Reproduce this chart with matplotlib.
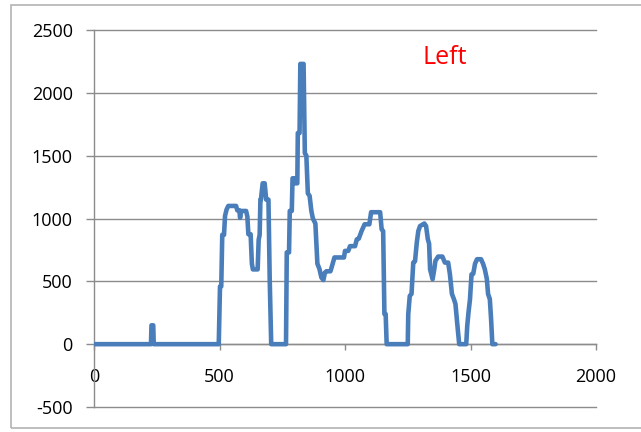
import matplotlib
matplotlib.use("Agg")
import matplotlib.pyplot as plt
from matplotlib.patches import Rectangle

# Data
x_values = [0, 227, 229, 236, 238, 497, 502, 507, 511, 518, 522, 528, 535, 566, 571, 579,
            582, 586, 606, 611, 615, 624, 629, 633, 652, 656, 660, 663, 665, 672, 680, 686,
            695, 700, 706, 765, 768, 777, 780, 788, 791, 800, 802, 810, 812, 819, 822, 835,
            840, 846, 852, 859, 866, 872, 882, 890, 898, 906, 914, 920, 926, 942, 948, 958,
            996, 1000, 1013, 1020, 1040, 1047, 1055, 1066, 1078, 1097, 1104, 1140, 1146,
            1152, 1157, 1162, 1166, 1250, 1252, 1258, 1265, 1272, 1279, 1286, 1292, 1299,
            1316, 1323, 1330, 1335, 1339, 1349, 1356, 1360, 1371, 1388, 1398, 1411, 1418,
            1426, 1434, 1440, 1448, 1455, 1483, 1487, 1492, 1498, 1504, 1511, 1518, 1526,
            1542, 1550, 1557, 1565, 1570, 1577, 1582, 1587, 1600]
y_values = [0, 0, 150, 150, 0, 0, 460, 460, 870, 870, 1020, 1070, 1100, 1100, 1065, 1065,
            1005, 1060, 1060, 1015, 875, 875, 640, 595, 595, 830, 870, 1150, 1150, 1280, 1280,
            1150, 1150, 520, 0, 0, 730, 730, 1060, 1060, 1320, 1320, 1280, 1280, 1680, 1680,
            2230, 2230, 1520, 1500, 1200, 1180, 1060, 1000, 960, 640, 600, 530, 510, 570, 580,
            580, 620, 690, 690, 742, 742, 780, 780, 834, 840, 900, 954, 954, 1050, 1050, 914,
            900, 240, 240, 0, 0, 238, 384, 400, 649, 660, 808, 900, 940, 960, 940, 835, 800,
            596, 517, 600, 662, 697, 697, 649, 649, 556, 400, 358, 320, 146, 0, 0, 146, 252,
            358, 556, 560, 640, 676, 676, 640, 596, 520, 400, 358, 200, 0, 0]

x_ticks = [0, 500, 1000, 1500, 2000]
y_ticks = [-500, 0, 500, 1000, 1500, 2000, 2500]
label_text = "Left"

plt.rcParams['font.family'] = ['Open Sans', 'DejaVu Sans']

W, H = 641, 432
fig = plt.figure(figsize=(W / 100, H / 100), dpi=100)
fig.patch.set_facecolor('white')

# outer chart border
fig.patches.append(Rectangle((11 / W, (H - 428) / H), (660 - 11) / W, (428 - 5) / H,
                             transform=fig.transFigure, fill=False,
                             edgecolor='#b3b3b3', linewidth=1.2))

ax = fig.add_axes([94 / W, (H - 407) / H, (596 - 94) / W, (407 - 30) / H])
ax.set_xlim(0, 2000)
ax.set_ylim(-500, 2500)

grid_color = '#8c8c8c'
for yt in y_ticks:
    ax.axhline(yt, color=grid_color, linewidth=1.0, zorder=1, clip_on=False)

ax.plot(x_values, y_values, color='#4a7ebb', linewidth=3.3, solid_joinstyle='round',
        solid_capstyle='round', zorder=3)

for s in ['top', 'right']:
    ax.spines[s].set_visible(False)
ax.spines['left'].set_color(grid_color)
ax.spines['left'].set_linewidth(1.0)
ax.spines['bottom'].set_position(('data', 0))
ax.spines['bottom'].set_color(grid_color)
ax.spines['bottom'].set_linewidth(1.0)

ax.set_xticks(x_ticks)
ax.set_yticks(y_ticks)
ax.set_xticklabels([str(v) for v in x_ticks])
ax.set_yticklabels([str(v) for v in y_ticks])
ax.tick_params(axis='y', direction='out', length=5.8, width=1.0, color=grid_color,
               labelsize=13, pad=9.5, labelcolor='black')
ax.tick_params(axis='x', direction='out', length=4.3, width=1.0, color=grid_color,
               labelsize=13, pad=12.5, labelcolor='black')

ax.text(0.655, 0.910, label_text, transform=ax.transAxes, color='#ff0000',
        fontsize=18, ha='left', va='baseline')

fig.savefig('out.png', dpi=100, facecolor='white')
